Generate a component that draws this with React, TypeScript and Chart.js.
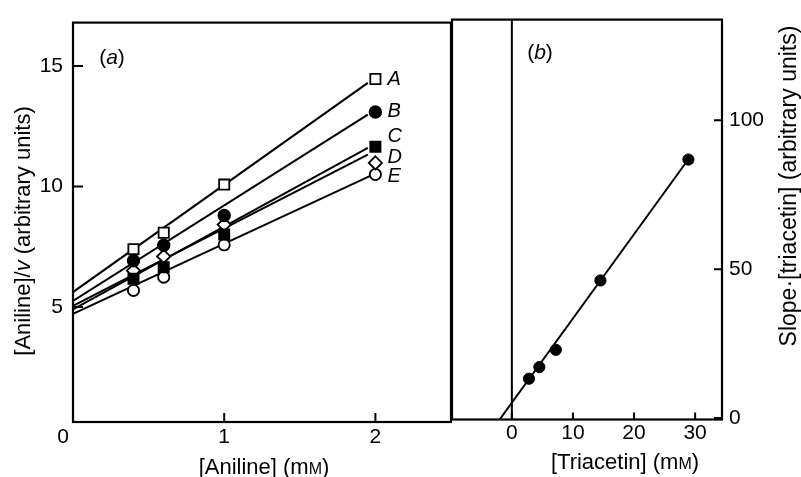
import React, { useEffect, useRef } from "react";
import { Chart, registerables } from "chart.js";

Chart.register(...registerables);

const FONT = '"Liberation Sans", Arial, Helvetica, sans-serif';
const INK = "#000";

// ---------- Panel (a) data ----------
const anilineConc = [0.4, 0.6, 1.0, 2.0];
const seriesA = [7.4, 8.08, 10.08, 14.46];
const seriesB = [6.92, 7.56, 8.8, 13.09];
const seriesC = [6.17, 6.65, 8.01, 11.65];
const seriesD = [6.51, 7.1, 8.42, 10.98];
const seriesE = [5.69, 6.24, 7.58, 10.5];
const seriesNames = ["A", "B", "C", "D", "E"];
// fitted lines (start at [Aniline] = 0)
const fitStartY = [5.62, 5.25, 4.9, 5.05, 4.72];
const fitEndX = [1.95, 1.95, 1.95, 1.95, 1.97];
const fitEndY = [14.3, 12.98, 11.6, 11.32, 10.45];
const seriesLabelY = [14.45, 13.1, 12.08, 11.22, 10.4];
const aTicksX = [1, 2];
const aTicksY = [5, 10, 15];

// ---------- Panel (b) data ----------
const triacetinConc = [2.8, 4.5, 7.2, 14.5, 28.9];
const slopeTimesTriacetin = [13.2, 17.1, 22.9, 46.2, 86.8];
const triacetinFitX = [-2.0, 28.9];
const triacetinFitY = [-0.5, 86.9];
const bTicksX = [0, 10, 20, 30];
const bTicksY = [0, 50, 100];

type Run = { t: string; italic?: boolean; scale?: number };

function drawRuns(
  ctx: CanvasRenderingContext2D,
  runs: Run[],
  cx: number,
  cy: number,
  size: number,
  rotate = 0
) {
  ctx.save();
  ctx.translate(cx, cy);
  if (rotate) ctx.rotate(rotate);
  const fontFor = (r: Run) =>
    `${r.italic ? "italic " : ""}${Math.round(size * (r.scale ?? 1))}px ${FONT}`;
  const widths = runs.map((r) => {
    ctx.font = fontFor(r);
    return ctx.measureText(r.t).width;
  });
  const total = widths.reduce((a, b) => a + b, 0);
  let x = -total / 2;
  ctx.fillStyle = INK;
  ctx.textAlign = "left";
  ctx.textBaseline = "alphabetic";
  const baseline = size * 0.36;
  runs.forEach((r, i) => {
    ctx.font = fontFor(r);
    ctx.fillText(r.t, x, baseline);
    x += widths[i];
  });
  ctx.restore();
}

const tickFont = { family: FONT, size: 21 };

const panelAPlugin = {
  id: "panelA",
  beforeDatasetsDraw(chart: any) {
    const { ctx, chartArea: ca, scales } = chart;
    ctx.save();
    ctx.strokeStyle = INK;
    ctx.lineWidth = 2.2;
    ctx.strokeRect(ca.left, ca.top, ca.right - ca.left, ca.bottom - ca.top);
    ctx.lineWidth = 2;
    ctx.beginPath();
    aTicksX.forEach((v) => {
      const px = scales.x.getPixelForValue(v);
      ctx.moveTo(px, ca.bottom);
      ctx.lineTo(px, ca.bottom - 9);
    });
    aTicksY.forEach((v) => {
      const py = scales.y.getPixelForValue(v);
      ctx.moveTo(ca.left, py);
      ctx.lineTo(ca.left + 10, py);
    });
    ctx.stroke();
    ctx.restore();
  },
  afterDraw(chart: any) {
    const { ctx, chartArea: ca, scales } = chart;
    ctx.save();
    // origin label
    ctx.font = `21px ${FONT}`;
    ctx.fillStyle = INK;
    ctx.textAlign = "right";
    ctx.textBaseline = "middle";
    ctx.fillText("0", scales.x.getPixelForValue(0) - 4, ca.bottom + 15);
    // series letters
    ctx.font = `italic 20px ${FONT}`;
    ctx.textAlign = "left";
    seriesNames.forEach((n, i) => {
      ctx.fillText(
        n,
        scales.x.getPixelForValue(2) + 12,
        scales.y.getPixelForValue(seriesLabelY[i])
      );
    });
    ctx.restore();
    drawRuns(ctx, [{ t: "(" }, { t: "a", italic: true }, { t: ")" }], ca.left + 39, ca.top + 33.5, 21);
    drawRuns(
      ctx,
      [{ t: "[Aniline]/" }, { t: "v", italic: true }, { t: " (arbitrary units)" }],
      22,
      231,
      22,
      -Math.PI / 2
    );
    drawRuns(ctx, [{ t: "[Aniline] (m" }, { t: "M", scale: 0.74 }, { t: ")" }], 264, 466, 22);
  },
};

const panelBPlugin = {
  id: "panelB",
  beforeDatasetsDraw(chart: any) {
    const { ctx, chartArea: ca, scales } = chart;
    ctx.save();
    ctx.strokeStyle = INK;
    ctx.lineWidth = 2.2;
    ctx.strokeRect(ca.left, ca.top, ca.right - ca.left, ca.bottom - ca.top);
    const zx = scales.x.getPixelForValue(0);
    ctx.lineWidth = 2;
    ctx.beginPath();
    ctx.moveTo(zx, ca.top);
    ctx.lineTo(zx, ca.bottom);
    ctx.stroke();
    ctx.beginPath();
    bTicksX.forEach((v) => {
      const px = scales.x.getPixelForValue(v);
      ctx.moveTo(px, ca.bottom);
      ctx.lineTo(px, ca.bottom - 7);
    });
    bTicksY.forEach((v) => {
      const py = scales.y.getPixelForValue(v);
      ctx.moveTo(ca.right, py);
      ctx.lineTo(ca.right - 8, py);
    });
    ctx.stroke();
    ctx.restore();
  },
  afterDraw(chart: any) {
    const { ctx, chartArea: ca } = chart;
    drawRuns(ctx, [{ t: "(" }, { t: "b", italic: true }, { t: ")" }], 100, ca.top + 31.5, 21);
    drawRuns(
      ctx,
      [{ t: "Slope·[triacetin] (arbitrary units)" }],
      348,
      186,
      22.5,
      -Math.PI / 2
    );
    drawRuns(ctx, [{ t: "[Triacetin] (m" }, { t: "M", scale: 0.74 }, { t: ")" }], 185, 461, 22);
  },
};

function PanelA() {
  const ref = useRef<HTMLCanvasElement>(null);
  useEffect(() => {
    const allSeries = [seriesA, seriesB, seriesC, seriesD, seriesE];
    const styles = [
      { pointStyle: "rect", radius: 7.2, fill: "#fff" },
      { pointStyle: "circle", radius: 5.8, fill: INK },
      { pointStyle: "rect", radius: 7.2, fill: INK },
      { pointStyle: "rectRot", radius: 6.6, fill: "#fff" },
      { pointStyle: "circle", radius: 5.6, fill: "#fff" },
    ];
    const lineSets = allSeries.map((_, i) => ({
      label: `fit ${seriesNames[i]}`,
      data: [
        { x: 0, y: fitStartY[i] },
        { x: fitEndX[i], y: fitEndY[i] },
      ],
      showLine: true,
      borderColor: INK,
      borderWidth: 2,
      pointRadius: 0,
      order: 2,
    }));
    const pointSets = allSeries.map((s, i) => ({
      label: seriesNames[i],
      data: anilineConc.map((x, j) => ({ x, y: s[j] })),
      showLine: false,
      pointStyle: styles[i].pointStyle,
      pointRadius: styles[i].radius,
      pointBackgroundColor: styles[i].fill,
      pointBorderColor: INK,
      pointBorderWidth: 1.8,
      order: 1,
    }));
    const chart = new Chart(ref.current!, {
      type: "scatter",
      data: { datasets: [...lineSets, ...pointSets] as any },
      options: {
        animation: false,
        responsive: false,
        events: [],
        layout: { padding: { left: 0, top: 16.5, right: 8, bottom: 0 } },
        plugins: { legend: { display: false }, tooltip: { enabled: false } },
        scales: {
          x: {
            type: "linear",
            min: 0,
            max: 2.5,
            grid: { display: false, drawTicks: false },
            border: { display: false },
            ticks: { padding: 3, font: tickFont, color: INK },
            afterBuildTicks: (s: any) => {
              s.ticks = aTicksX.map((v) => ({ value: v }));
            },
            afterFit: (s: any) => {
              s.height = 55;
            },
          },
          y: {
            type: "linear",
            min: 0.23,
            max: 16.8,
            grid: { display: false, drawTicks: false },
            border: { display: false },
            ticks: { padding: 10, font: tickFont, color: INK },
            afterBuildTicks: (s: any) => {
              s.ticks = aTicksY.map((v) => ({ value: v }));
            },
            afterFit: (s: any) => {
              s.width = 73;
            },
          },
        },
      } as any,
      plugins: [panelAPlugin],
    });
    return () => chart.destroy();
  }, []);
  return (
    <canvas
      ref={ref}
      width={460}
      height={477}
      style={{ position: "absolute", left: 0, top: 0, width: 460, height: 477 }}
    />
  );
}

function PanelB() {
  const ref = useRef<HTMLCanvasElement>(null);
  useEffect(() => {
    const chart = new Chart(ref.current!, {
      type: "scatter",
      data: {
        datasets: [
          {
            label: "fit",
            data: triacetinFitX.map((x, i) => ({ x, y: triacetinFitY[i] })),
            showLine: true,
            borderColor: INK,
            borderWidth: 2,
            pointRadius: 0,
            order: 2,
          },
          {
            label: "Slope·[triacetin]",
            data: triacetinConc.map((x, i) => ({ x, y: slopeTimesTriacetin[i] })),
            showLine: false,
            pointStyle: "circle",
            pointRadius: 5.6,
            pointBackgroundColor: INK,
            pointBorderColor: INK,
            pointBorderWidth: 1,
            order: 1,
          },
        ] as any,
      },
      options: {
        animation: false,
        responsive: false,
        events: [],
        layout: { padding: { left: 12, top: 16.5, right: 0, bottom: 0 } },
        plugins: { legend: { display: false }, tooltip: { enabled: false } },
        scales: {
          x: {
            type: "linear",
            min: -9.8,
            max: 34.4,
            grid: { display: false, drawTicks: false },
            border: { display: false },
            ticks: { padding: 1, font: tickFont, color: INK },
            afterBuildTicks: (s: any) => {
              s.ticks = bTicksX.map((v) => ({ value: v }));
            },
            afterFit: (s: any) => {
              s.height = 57.5;
            },
          },
          y: {
            type: "linear",
            position: "right",
            min: -0.5,
            max: 133.8,
            grid: { display: false, drawTicks: false },
            border: { display: false },
            ticks: { padding: 7, font: tickFont, color: INK },
            afterBuildTicks: (s: any) => {
              s.ticks = bTicksY.map((v) => ({ value: v }));
            },
            afterFit: (s: any) => {
              s.width = 79;
            },
          },
        },
      } as any,
      plugins: [panelBPlugin],
    });
    return () => chart.destroy();
  }, []);
  return (
    <canvas
      ref={ref}
      width={361}
      height={477}
      style={{ position: "absolute", left: 440, top: 0, width: 361, height: 477 }}
    />
  );
}

export default function App() {
  return (
    <div
      style={{
        position: "absolute",
        left: 0,
        top: 0,
        width: 801,
        height: 477,
        background: "#fff",
        overflow: "hidden",
      }}
    >
      <PanelA />
      <PanelB />
    </div>
  );
}
